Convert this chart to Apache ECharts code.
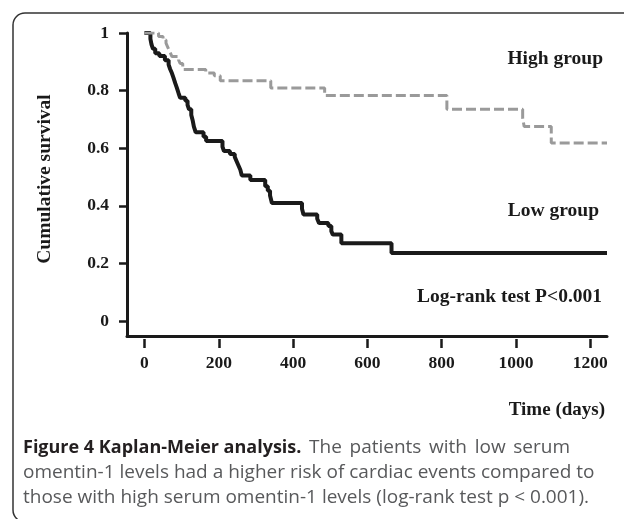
<!DOCTYPE html>
<html>
<head>
<meta charset="utf-8">
<script src="https://cdn.jsdelivr.net/npm/echarts@6/dist/echarts.min.js"></script>
<style>
html,body{margin:0;padding:0;background:#fff;}
#chart{width:624px;height:519px;}
</style>
</head>
<body>
<div id="chart"></div>
<script>
// ---- data ----
const timeTicks = [0, 200, 400, 600, 800, 1000, 1200];
const survivalTicks = [0, 0.2, 0.4, 0.6, 0.8, 1];
const lowGroupName = 'Low group';
const highGroupName = 'High group';
// [time (days), cumulative survival] — Kaplan-Meier steps
const lowGroup = [
  [0, 1], [16, 0.98], [19, 0.96], [23, 0.945], [29, 0.93], [40, 0.92], [55, 0.905],
  [65, 0.89], [69, 0.875], [74, 0.86], [78, 0.845], [83, 0.825], [87, 0.81],
  [92, 0.79], [96, 0.775], [110, 0.765], [116, 0.75], [120, 0.735], [126, 0.715],
  [130, 0.695], [133, 0.675], [138, 0.655], [159, 0.64], [166, 0.625], [210, 0.605],
  [214, 0.59], [230, 0.58], [243, 0.57], [248, 0.555], [253, 0.54], [258, 0.525],
  [262, 0.505], [285, 0.49], [325, 0.468], [332, 0.452], [338, 0.436], [343, 0.41],
  [424, 0.39], [428, 0.37], [465, 0.355], [470, 0.34], [495, 0.33], [503, 0.312],
  [507, 0.3], [530, 0.27], [665, 0.236], [1245, 0.236]
];
const highGroup = [
  [0, 1], [38, 0.988], [50, 0.976], [58, 0.965], [62, 0.953], [66, 0.941], [70, 0.93],
  [74, 0.918], [92, 0.906], [96, 0.894], [103, 0.873], [165, 0.861], [188, 0.852],
  [204, 0.834], [340, 0.809], [485, 0.783], [814, 0.735], [1018, 0.705],
  [1022, 0.675], [1095, 0.618], [1245, 0.618]
];
const captionTitle = 'Figure 4 Kaplan-Meier analysis.';
const captionLines = [
  'The patients with low serum',
  'omentin-1 levels had a higher risk of cardiac events compared to',
  'those with high serum omentin-1 levels (log-rank test p < 0.001).'
];

// ---- chart ----
const serif = '"Liberation Serif", "Times New Roman", serif';
const sans = '"Open Sans", "Noto Sans", sans-serif';
const boldSize = 18, normSize = 19;
const chart = echarts.init(document.getElementById('chart'), null, {renderer: 'canvas'});

// caption layout (first line justified like the reference)
const measureCtx = document.createElement('canvas').getContext('2d');
function textWidth(t, size, bold) {
  measureCtx.font = (bold ? 'bold ' : '') + size + 'px ' + sans;
  return measureCtx.measureText(t).width;
}
const captionGraphics = [];
const titleW = textWidth(captionTitle, boldSize, true);
captionGraphics.push({type: 'text', x: 23, y: 448,
  style: {text: captionTitle, fontFamily: sans, fontWeight: 'bold', fontSize: boldSize,
    fill: '#231f20', verticalAlign: 'middle'}});
(function () {
  const words = captionLines[0].split(' ');
  const widths = words.map(w => textWidth(w, normSize, false));
  const total = widths.reduce((a, b) => a + b, 0);
  const startX = 23 + titleW, endX = 570;
  const gap = (endX - startX - total) / words.length;
  let x = startX + gap;
  words.forEach((w, i) => {
    captionGraphics.push({type: 'text', x: x, y: 448,
      style: {text: w, fontFamily: sans, fontSize: normSize, fill: '#58595b', verticalAlign: 'middle'}});
    x += widths[i] + gap;
  });
})();
captionLines.slice(1).forEach((line, i) => {
  captionGraphics.push({type: 'text', x: 23, y: 473 + i * 25,
    style: {text: line, fontFamily: sans, fontSize: normSize, fill: '#58595b', verticalAlign: 'middle'}});
});

const xCommon = {type: 'value', min: -47, max: 1245, splitLine: {show: false}, position: 'bottom'};

chart.setOption({
  animation: false,
  backgroundColor: '#fff',
  grid: {left: 127, right: 17, top: 33, bottom: 183, containLabel: false},
  xAxis: [
    Object.assign({}, xCommon, {
      axisLine: {show: true, onZero: false, lineStyle: {color: '#1a1a1a', width: 3}},
      axisTick: {show: false},
      axisLabel: {show: false}
    }),
    Object.assign({}, xCommon, {
      offset: 3,
      axisLine: {show: false, onZero: false},
      axisTick: {show: true, length: 9, customValues: timeTicks, lineStyle: {color: '#1a1a1a', width: 2.5}},
      axisLabel: {show: true, customValues: timeTicks, margin: 15, formatter: v => String(v),
        fontFamily: serif, fontWeight: 'bold', fontSize: 17.5, color: '#1a1a1a'}
    })
  ],
  yAxis: {
    type: 'value', min: -0.052, max: 1,
    splitLine: {show: false},
    axisLine: {show: true, onZero: false, lineStyle: {color: '#1a1a1a', width: 3}},
    axisTick: {show: true, length: 8, customValues: survivalTicks, lineStyle: {color: '#1a1a1a', width: 2.5}},
    axisLabel: {show: true, customValues: survivalTicks, margin: 18, formatter: v => String(v),
      fontFamily: serif, fontWeight: 'bold', fontSize: 17.5, color: '#1a1a1a'}
  },
  series: [
    {
      name: lowGroupName, type: 'line', step: 'end', showSymbol: false, symbol: 'none',
      xAxisIndex: 0, data: lowGroup, z: 2,
      lineStyle: {color: '#1a1a1a', width: 4}
    },
    {
      name: highGroupName, type: 'line', step: 'end', showSymbol: false, symbol: 'none',
      xAxisIndex: 0, data: highGroup, z: 3,
      lineStyle: {color: '#9a9a9a', width: 3, type: [10, 4]}
    }
  ],
  graphic: [
    {type: 'rect', shape: {x: 13, y: 13, width: 700, height: 509, r: 12},
     style: {fill: 'none', stroke: '#333', lineWidth: 1.5}, silent: true},
    {type: 'text', x: 45, y: 179, rotation: Math.PI / 2,
     style: {text: 'Cumulative survival', fontFamily: serif, fontWeight: 'bold', fontSize: 19.5,
       fill: '#1a1a1a', align: 'center', verticalAlign: 'middle'}},
    {type: 'text', x: 603, y: 59,
     style: {text: highGroupName, fontFamily: serif, fontWeight: 'bold', fontSize: 19.5,
       fill: '#1a1a1a', align: 'right', verticalAlign: 'middle'}},
    {type: 'text', x: 599, y: 211,
     style: {text: lowGroupName, fontFamily: serif, fontWeight: 'bold', fontSize: 19.5,
       fill: '#1a1a1a', align: 'right', verticalAlign: 'middle'}},
    {type: 'text', x: 602, y: 297,
     style: {text: 'Log-rank test P<0.001', fontFamily: serif, fontWeight: 'bold', fontSize: 19.5,
       fill: '#1a1a1a', align: 'right', verticalAlign: 'middle'}},
    {type: 'text', x: 605, y: 410,
     style: {text: 'Time (days)', fontFamily: serif, fontWeight: 'bold', fontSize: 19,
       fill: '#1a1a1a', align: 'right', verticalAlign: 'middle'}}
  ].concat(captionGraphics)
});
</script>
</body>
</html>
